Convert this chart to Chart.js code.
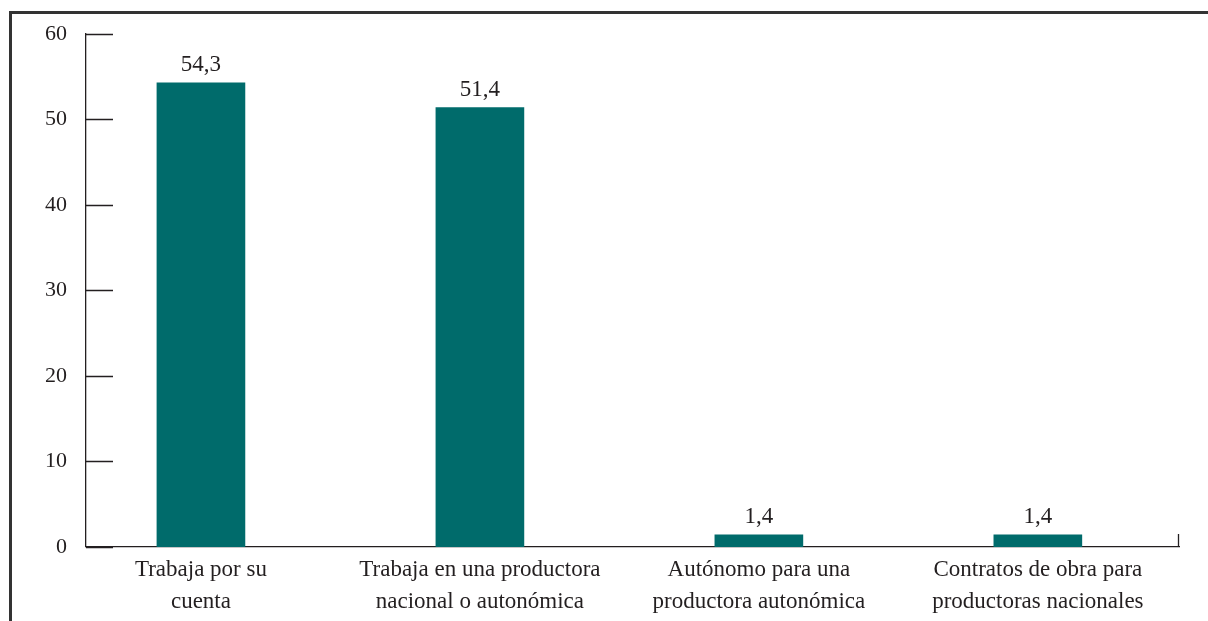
<!DOCTYPE html>
<html>
<head>
<meta charset="utf-8">
<script src="https://cdn.jsdelivr.net/npm/chart.js@4/dist/chart.umd.min.js"></script>
<style>
  html, body { margin: 0; padding: 0; background: #fff; }
  #wrap { position: relative; width: 1208px; height: 621px; }
  #frame { position: absolute; left: 9px; top: 11px; right: 0; bottom: 0;
           border-top: 3px solid #333; border-left: 3px solid #333; }
  canvas { position: absolute; left: 0; top: 0; }
</style>
</head>
<body>
<div id="wrap">
  <div id="frame"></div>
  <canvas id="chart" width="1208" height="621"></canvas>
</div>
<script>
// data
var categories = [
  ['Trabaja por su', 'cuenta'],
  ['Trabaja en una productora', 'nacional o autonómica'],
  ['Autónomo para una', 'productora autonómica'],
  ['Contratos de obra para', 'productoras nacionales']
];
var values = [54.3, 51.4, 1.4, 1.4];
var yTicks = [0, 10, 20, 30, 40, 50, 60];

var ink = '#231f20';
var teal = '#006b6b';
var serif = '"Liberation Serif", "DejaVu Serif", serif';

// inner tick marks on the y axis + small closing tick at right end of x axis
var innerTicks = {
  id: 'innerTicks',
  afterDraw: function(chart) {
    var ctx = chart.ctx;
    var y = chart.scales.y, x = chart.scales.x;
    ctx.save();
    ctx.strokeStyle = ink;
    ctx.lineWidth = 1.3;
    ctx.beginPath();
    yTicks.forEach(function(v) {
      var py = Math.round(y.getPixelForValue(v)) + 0.5;
      ctx.moveTo(x.left, py);
      ctx.lineTo(x.left + 27, py);
    });
    var right = Math.round(x.right) - 0.5;
    var base = y.getPixelForValue(0);
    ctx.moveTo(right, base);
    ctx.lineTo(right, base - 13);
    ctx.stroke();
    ctx.restore();
  }
};

// value labels above bars
var valueLabels = {
  id: 'valueLabels',
  afterDatasetsDraw: function(chart) {
    var ctx = chart.ctx;
    var meta = chart.getDatasetMeta(0);
    ctx.save();
    ctx.fillStyle = ink;
    ctx.font = '23px ' + serif;
    ctx.textAlign = 'center';
    ctx.textBaseline = 'bottom';
    meta.data.forEach(function(bar, i) {
      ctx.fillText(values[i].toFixed(1).replace('.', ','), bar.x, bar.y - 6);
    });
    ctx.restore();
  }
};

var points = values.map(function(v, i) { return { x: i, y: v }; });

new Chart(document.getElementById('chart'), {
  type: 'bar',
  data: {
    datasets: [{
      data: points,
      backgroundColor: teal,
      barThickness: 88
    }]
  },
  options: {
    responsive: false,
    animation: false,
    layout: { padding: { top: 34, right: 29, bottom: -4, left: 26 } },
    plugins: { legend: { display: false }, tooltip: { enabled: false } },
    scales: {
      x: {
        type: 'linear',
        offset: false,
        min: -0.412,
        max: 3.506,
        grid: { display: false, drawTicks: false, offset: false },
        border: { display: true, color: ink, width: 1.3 },
        afterBuildTicks: function(scale) {
          scale.ticks = categories.map(function(c, i) { return { value: i }; });
        },
        ticks: {
          autoSkip: false,
          maxRotation: 0,
          padding: 8,
          color: ink,
          font: { family: serif, size: 23, lineHeight: 1.35 },
          callback: function(v) { return categories[v]; }
        }
      },
      y: {
        min: 0,
        max: 60,
        grid: { display: false, drawTicks: false },
        border: { display: true, color: ink, width: 1.3 },
        afterBuildTicks: function(scale) {
          scale.ticks = yTicks.map(function(v) { return { value: v }; });
        },
        ticks: {
          padding: 19,
          color: ink,
          font: { family: serif, size: 22 }
        }
      }
    }
  },
  plugins: [innerTicks, valueLabels]
});
</script>
</body>
</html>
